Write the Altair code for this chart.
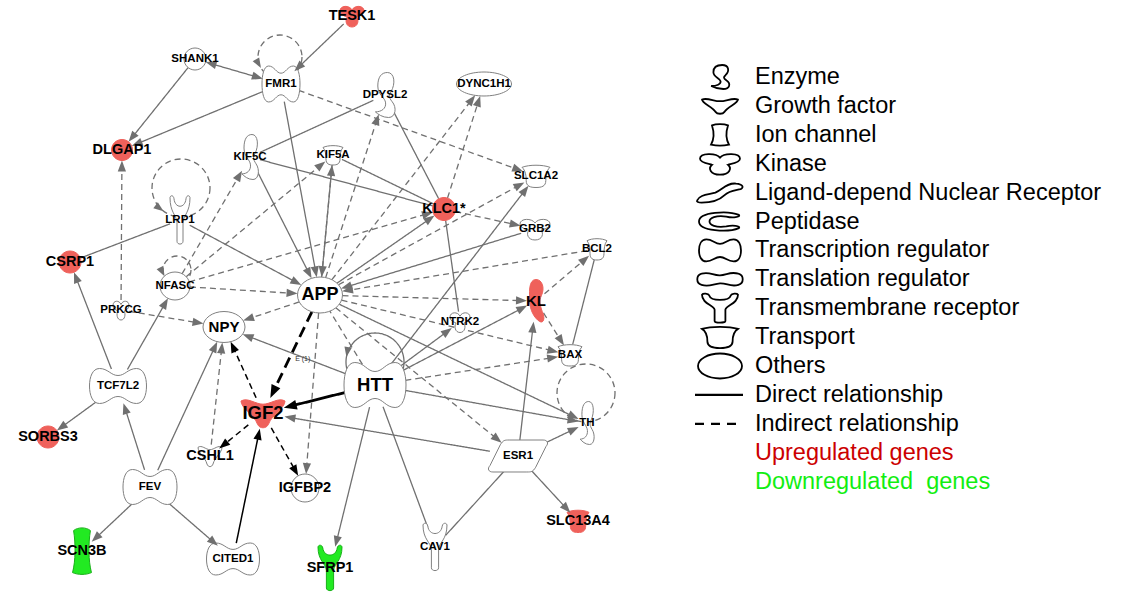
import math
import re
import altair as alt
import pandas as pd

W, H = 1127, 595
FONT = "Liberation Sans"
GRAY = "#707070"
RED = "#ef615b"
GREEN = "#22ea22"

# ---------------- network data ----------------
genes = ["TESK1", "SHANK1", "FMR1", "DPYSL2", "DYNC1H1", "DLGAP1", "KIF5C", "KIF5A",
         "SLC1A2", "KLC1*", "GRB2", "BCL2", "LRP1", "CSRP1", "NFASC", "PRKCG", "APP",
         "NPY", "KL", "NTRK2", "BAX", "HTT", "TCF7L2", "IGF2", "TH", "SORBS3", "CSHL1",
         "ESR1", "FEV", "IGFBP2", "SCN3B", "CITED1", "SFRP1", "CAV1", "SLC13A4"]
gene_x = [352, 195, 281, 385, 484, 122, 250, 333, 536, 444, 535, 597, 180, 70, 175, 121, 320,
          224, 536, 460, 570, 375, 118, 263, 587, 48, 210, 518, 150, 305, 82, 233, 330, 435, 578]
gene_y = [16, 59, 84, 95, 84, 150, 157, 155, 176, 209, 229, 249, 220, 262, 286, 310, 295,
          327, 301, 322, 355, 385, 386, 413, 423, 437, 456, 456, 487, 488, 551, 559, 568, 547, 521]
gene_type = ["kinase", "other", "transcription", "enzyme", "other", "other", "enzyme", "transport",
             "transport", "other", "kinase", "transport", "transmembrane", "other", "other", "kinase",
             "other", "other", "peptidase", "kinase", "transport", "transcription", "transcription",
             "growth", "enzyme", "other", "growth", "ligand", "transcription", "other", "ion",
             "transcription", "transmembrane", "transmembrane", "transport"]
up_genes = ["TESK1", "DLGAP1", "KLC1*", "CSRP1", "KL", "IGF2", "SORBS3", "SLC13A4"]
down_genes = ["SCN3B", "SFRP1"]

edge_from = ["TESK1", "SHANK1", "SHANK1", "FMR1", "FMR1", "FMR1", "DPYSL2", "DPYSL2", "KIF5C",
             "KIF5A", "KIF5C", "KIF5A", "LRP1", "LRP1", "KLC1*", "GRB2", "APP", "APP", "APP",
             "KLC1*", "APP", "NFASC", "NFASC", "NFASC", "NFASC", "PRKCG", "PRKCG", "APP", "CSHL1",
             "APP", "APP", "KLC1*", "BCL2", "APP", "APP", "APP", "HTT", "HTT", "KL", "KL", "BCL2",
             "HTT", "HTT", "HTT", "HTT", "APP", "HTT", "HTT", "HTT", "ESR1", "ESR1", "ESR1", "ESR1",
             "ESR1", "TCF7L2", "TCF7L2", "TCF7L2", "FEV", "FEV", "FEV", "FEV",
             "APP", "HTT", "IGF2", "IGF2", "IGF2", "CITED1"]
edge_to = ["FMR1", "FMR1", "DLGAP1", "DLGAP1", "APP", "SLC1A2", "KIF5C", "KLC1*", "KLC1*",
           "KLC1*", "APP", "APP", "CSRP1", "APP", "NTRK2", "APP", "KLC1*", "DPYSL2", "DYNC1H1",
           "DYNC1H1", "KIF5A", "KIF5C", "KIF5A", "KLC1*", "APP", "DLGAP1", "NPY", "NPY", "NPY",
           "IGFBP2", "SLC1A2", "GRB2", "APP", "KL", "BAX", "ESR1", "APP", "BAX", "BCL2", "BAX", "BAX",
           "SLC1A2", "NTRK2", "KL", "TH", "TH", "NPY", "SFRP1", "CAV1", "CAV1", "SLC13A4", "TH", "KL",
           "IGF2", "CSRP1", "NFASC", "SORBS3", "TCF7L2", "NPY", "SCN3B", "CITED1",
           "IGF2", "IGF2", "NPY", "CSHL1", "IGFBP2", "IGF2"]
edge_rel = ["direct", "direct", "direct", "direct", "direct", "indirect", "direct", "direct", "direct",
            "direct", "direct", "direct", "direct", "direct", "direct", "direct", "direct", "indirect",
            "indirect", "indirect", "indirect", "indirect", "indirect", "indirect", "indirect",
            "indirect", "indirect", "indirect", "indirect", "indirect", "indirect", "indirect",
            "indirect", "indirect", "indirect", "indirect", "indirect", "indirect", "indirect",
            "indirect", "direct", "direct", "direct", "direct", "direct", "direct", "direct", "direct",
            "direct", "direct", "direct", "direct", "direct", "direct", "direct", "direct", "direct",
            "direct", "direct", "direct", "direct",
            "indirect", "direct", "indirect", "indirect", "indirect", "direct"]
edge_head = ["to", "both", "to", "to", "to", "to", "none", "none", "none", "none", "to", "to", "none",
             "to", "none", "to", "to", "to", "to", "to", "to", "to", "to", "to", "to", "to", "to", "to",
             "to", "to", "to", "to", "to", "to", "to", "to", "none", "to", "to", "to", "none", "to",
             "to", "to", "to", "to", "to", "to", "none", "none", "to", "to", "to", "to", "to", "to",
             "to", "to", "to", "to", "to",
             "to", "to", "to", "to", "to", "to"]

loop_gene = ["FMR1", "LRP1", "NFASC", "HTT", "TH"]
loop_rel = ["indirect", "indirect", "indirect", "direct", "indirect"]

legend_labels = ["Enzyme", "Growth factor", "Ion channel", "Kinase", "Ligand-depend Nuclear Receptor",
                 "Peptidase", "Transcription regulator", "Translation regulator",
                 "Transmembrane receptor", "Transport", "Others", "Direct relationship",
                 "Indirect relationship", "Upregulated genes", "Downregulated\u00a0 genes"]
legend_kind = ["enzyme", "growth", "ion", "kinase", "ligand", "peptidase", "transcription",
               "translation", "transmembrane", "transport", "other", "direct", "indirect", "up", "down"]

# ---------------- drawing styles ----------------
node_box = {"TESK1": (24, 22), "SHANK1": (22, 22), "FMR1": (38, 36), "DPYSL2": (24, 45),
            "DYNC1H1": (55, 24), "DLGAP1": (21, 21), "KIF5C": (20, 45), "KIF5A": (20, 20),
            "SLC1A2": (28, 23), "KLC1*": (23, 23), "GRB2": (30, 22), "BCL2": (20, 22),
            "LRP1": (20, 50), "CSRP1": (22, 22), "NFASC": (30, 28), "PRKCG": (16, 20),
            "APP": (45, 36), "NPY": (42, 31), "KL": (18, 43), "NTRK2": (20, 21), "BAX": (24, 22),
            "HTT": (62, 45), "TCF7L2": (57, 35), "IGF2": (44, 32), "TH": (17, 43),
            "SORBS3": (22, 22), "CSHL1": (24, 23), "ESR1": (59, 32), "FEV": (54, 35),
            "IGFBP2": (28, 28), "SCN3B": (21, 48), "CITED1": (53, 32), "SFRP1": (24, 47),
            "CAV1": (24, 49), "SLC13A4": (22, 23)}
label_size = {"APP": 18, "HTT": 18.5, "IGF2": 18.5,
              "TESK1": 14.5, "DLGAP1": 14.5, "KLC1*": 14.5, "CSRP1": 14.5, "NPY": 15, "KL": 15,
              "SORBS3": 14.5, "CSHL1": 14.5, "IGFBP2": 14.5, "SCN3B": 14.5, "SFRP1": 14.5,
              "SLC13A4": 14.5}
SMALL_LABEL = 11.5
# loop centre offset from its gene, radius, angle of the arrow tip on the circle
loop_geom = {"FMR1": (-1, -27, 22, 150), "LRP1": (1, -32, 29, 127), "NFASC": (2, -16, 14, 153),
             "HTT": (0, -23, 29, 190), "TH": (-1, -30, 29, None)}
# edges into / out of IGF2 drawn in black, the two main ones thicker
emphasis = {("APP", "IGF2"): 2.8, ("HTT", "IGF2"): 2.8, ("IGF2", "NPY"): 1.5,
            ("IGF2", "CSHL1"): 1.5, ("IGF2", "IGFBP2"): 1.5, ("CITED1", "IGF2"): 1.5}

PATHS = {
    "other": "M1,0 C1,0.5523 0.5523,1 0,1 C-0.5523,1 -1,0.5523 -1,0 C-1,-0.5523 -0.5523,-1 0,-1 C0.5523,-1 1,-0.5523 1,0 Z",
    "transcription": "M0,-0.6 C-0.25,-0.6 -0.35,-1 -0.65,-1 C-0.9,-1 -1,-0.5 -1,0 C-1,0.5 -0.9,1 -0.65,1 C-0.35,1 -0.25,0.6 0,0.6 C0.25,0.6 0.35,1 0.65,1 C0.9,1 1,0.5 1,0 C1,-0.5 0.9,-1 0.65,-1 C0.35,-1 0.25,-0.6 0,-0.6 Z",
    "enzyme": "M0.2,-1 C0.8,-1 0.9,-0.5 0.5,-0.15 C0.3,0 0.3,0.1 0.6,0.3 C1,0.55 0.9,1 0.3,1 C-0.2,1 -0.6,0.85 -0.8,0.75 C-0.3,0.75 0.1,0.6 0.05,0.35 C0,0.1 -0.6,0 -0.6,-0.4 C-0.6,-0.8 -0.3,-1 0.2,-1 Z",
    "crescent": "M0,-1 C0.7,-1 1,-0.6 0.6,-0.25 C0.3,0 0.5,0.3 0.8,0.6 C1,0.85 0.8,1.05 0.4,0.95 C-0.2,0.8 -0.7,0.4 -0.7,0 C-0.7,-0.3 -0.9,-1 0,-1 Z",
    "transport": "M-1,-0.75 C-0.5,-1 0.5,-1 1,-0.75 C0.75,-0.5 0.7,0 0.7,0.4 C0.7,0.9 0.4,1 0,1 C-0.4,1 -0.7,0.9 -0.7,0.4 C-0.7,0 -0.75,-0.5 -1,-0.75 Z",
    "kinase": "M0,-0.55 C-0.2,-1 -1,-1 -1,-0.45 C-1,-0.1 -0.6,0 -0.4,0.1 C-0.6,0.4 -0.5,1 0,1 C0.5,1 0.6,0.4 0.4,0.1 C0.6,0 1,-0.1 1,-0.45 C1,-1 0.2,-1 0,-0.55 Z",
    "growth": "M-1,-0.75 C-0.7,-1 -0.35,-0.55 0,-0.55 C0.35,-0.55 0.7,-1 1,-0.75 C1,-0.3 0.4,0.1 0.25,0.7 C0.15,1 -0.15,1 -0.25,0.7 C-0.4,0.1 -1,-0.3 -1,-0.75 Z",
    "ion": "M-0.8,-0.85 C-0.4,-1 0.4,-1 0.8,-0.85 C0.6,-0.3 0.6,0.4 0.9,0.9 C0.4,1 -0.4,1 -0.9,0.9 C-0.6,0.4 -0.6,-0.3 -0.8,-0.85 Z",
    "transmembrane": "M-1,-0.9 C-1,-0.3 -0.35,-0.2 -0.3,0.1 L-0.3,0.85 C-0.3,1 0.3,1 0.3,0.85 L0.3,0.1 C0.35,-0.2 1,-0.3 1,-0.9 C0.95,-1 0.65,-1 0.6,-0.85 C0.5,-0.45 -0.5,-0.45 -0.6,-0.85 C-0.65,-1 -0.95,-1 -1,-0.9 Z",
    "ligand": "M-1,0.8 C-0.9,0.2 -0.5,0.2 -0.2,0 C0.1,-0.3 0.3,-1 0.7,-0.9 C1,-0.85 1.05,-0.5 0.9,-0.35 C0.6,-0.2 0.4,-0.2 0.2,0.25 C0,0.7 -0.4,1 -0.8,1 C-0.95,1 -1.02,0.9 -1,0.8 Z",
    "ligand_node": "M-0.3,-1 L0.85,-1 C1,-1 1.05,-0.8 0.95,-0.6 L0.6,0.7 C0.5,1 0.45,1 0.3,1 L-0.85,1 C-1,1 -1.05,0.8 -0.95,0.6 L-0.6,-0.7 C-0.5,-1 -0.45,-1 -0.3,-1 Z",
    "peptidase": "M0.9,-0.6 C0.4,-1 -1,-0.9 -1,0 C-1,0.9 0.4,1 0.9,0.6 C1,0.4 0.6,0.3 0.3,0.45 C-0.2,0.6 -0.5,0.3 -0.5,0 C-0.5,-0.3 -0.2,-0.6 0.3,-0.45 C0.6,-0.3 1,-0.4 0.9,-0.6 Z",
    "translation": "M-0.8,-0.7 C-0.45,-1 -0.3,-0.45 0,-0.5 C0.3,-0.55 0.45,-1 0.8,-0.7 C1.05,-0.5 1.05,0.5 0.8,0.7 C0.45,1 0.3,0.45 0,0.5 C-0.3,0.55 -0.45,1 -0.8,0.7 C-1.05,0.5 -1.05,-0.5 -0.8,-0.7 Z",
}
NODE_PATH = {"ligand": "ligand_node", "peptidase": "crescent"}
ARROW = "M0,-1 L0.75,1 L-0.75,1 Z"

legend_box = {"enzyme": (22, 24), "growth": (36, 17), "ion": (20, 22), "kinase": (40, 22),
              "ligand": (46, 20), "peptidase": (42, 22), "transcription": (42, 22),
              "translation": (46, 16), "transmembrane": (36, 30), "transport": (36, 22),
              "other": (44, 25)}


def fitted(path, w, h):
    """Scale a path drawn in the [-1, 1] box to a w x h symbol; returns (path, size)."""
    s = max(w, h)
    sx, sy = w / s, h / s
    out, k = [], 0
    for tok in re.findall(r"[A-Za-z]|-?\d*\.?\d+", path):
        if tok.isalpha():
            out.append(tok)
        else:
            v = float(tok) * (sx if k % 2 == 0 else sy)
            k += 1
            out.append(f"{v:.3f}")
    return " ".join(out), s * s


pos = dict(zip(genes, zip(gene_x, gene_y)))


def reach(g, ux, uy):
    w, h = node_box[g]
    a, b = w / 2, h / 2
    return a * b / math.sqrt((b * ux) ** 2 + (a * uy) ** 2)


def heading(dx, dy):
    return (math.degrees(math.atan2(dx, -dy)) + 360) % 360


# ---------------- tables ----------------
node_rows = []
for g, gx, gy, t in zip(genes, gene_x, gene_y, gene_type):
    w, h = node_box[g]
    p, sz = fitted(PATHS[NODE_PATH.get(t, t)], w, h)
    if g in up_genes:
        fill, stroke = RED, RED
    elif g in down_genes:
        fill, stroke = GREEN, "#18b018"
    else:
        fill, stroke = "white", "#808080"
    node_rows.append(dict(x=gx, y=gy, path=p, sz=sz, fill=fill, stroke=stroke,
                          label=g, fs=label_size.get(g, SMALL_LABEL)))
nodes = pd.DataFrame(node_rows)

edge_rows, head_rows = [], []
for s, t, rel, hd in zip(edge_from, edge_to, edge_rel, edge_head):
    (sx, sy), (tx, ty) = pos[s], pos[t]
    L = math.hypot(tx - sx, ty - sy)
    ux, uy = (tx - sx) / L, (ty - sy) / L
    x0, y0 = sx + ux * reach(s, ux, uy), sy + uy * reach(s, ux, uy)
    x1, y1 = tx - ux * reach(t, ux, uy), ty - uy * reach(t, ux, uy)
    sw = emphasis.get((s, t), 1.3)
    col = "black" if (s, t) in emphasis else GRAY
    al = 13 if sw > 2 else 11
    if hd in ("to", "both"):
        head_rows.append(dict(x=x1 - ux * al / 2, y=y1 - uy * al / 2, ang=heading(ux, uy),
                              sz=al * al, col=col))
        x1e, y1e = x1 - ux * al * 0.7, y1 - uy * al * 0.7
    else:
        x1e, y1e = x1, y1
    if hd == "both":
        head_rows.append(dict(x=x0 + ux * al / 2, y=y0 + uy * al / 2, ang=heading(-ux, -uy),
                              sz=al * al, col=col))
        x0, y0 = x0 + ux * al * 0.7, y0 + uy * al * 0.7
    style = rel + ("_bold" if sw > 2 else "")
    edge_rows.append(dict(x=x0, y=y0, x2=x1e, y2=y1e, rel=style, sw=sw, col=col,
                          key=f"{s}>{t}"))
edges = pd.DataFrame(edge_rows)

loop_rows = []
for g, rel in zip(loop_gene, loop_rel):
    dx, dy, r, tip = loop_geom[g]
    cx, cy = pos[g][0] + dx, pos[g][1] + dy
    p, sz = fitted(PATHS["other"], 2 * r, 2 * r)
    loop_rows.append(dict(x=cx, y=cy, path=p, sz=sz, rel=rel))
    if tip is not None:
        phi = math.radians(tip)
        px, py = cx + r * math.cos(phi), cy + r * math.sin(phi)
        vx, vy = math.sin(phi), -math.cos(phi)
        head_rows.append(dict(x=px - vx * 5, y=py - vy * 5, ang=heading(vx, vy), sz=100, col=GRAY))
loops = pd.DataFrame(loop_rows)
heads = pd.DataFrame(head_rows)

# small evidence tag on the HTT -> NPY edge
mid = edges[edges.key == "HTT>NPY"].iloc[0]
tag = pd.DataFrame([dict(x=(mid.x + mid.x2) / 2 + 4, y=(mid.y + mid.y2) / 2 + 3, t="E (1)")])

# legend
LX_ICON, LX_TEXT, LY0, LSTEP = 721, 755, 77, 28.9
leg_rows, icon_rows, key_rows = [], [], []
for i, (lab, kind) in enumerate(zip(legend_labels, legend_kind)):
    y = LY0 + i * LSTEP
    color = {"up": "#cc0000", "down": "#11ee11"}.get(kind, "black")
    leg_rows.append(dict(x=LX_TEXT, y=y, t=lab, col=color))
    if kind in legend_box:
        p, sz = fitted(PATHS[kind], *legend_box[kind])
        icon_rows.append(dict(x=LX_ICON - 1, y=y, path=p, sz=sz))
    elif kind in ("direct", "indirect"):
        key_rows.append(dict(x=LX_ICON - 26, x2=LX_ICON + 22, y=y, rel=kind))
legend_text = pd.DataFrame(leg_rows)
legend_icons = pd.DataFrame(icon_rows)
legend_keys = pd.DataFrame(key_rows)

# ---------------- chart ----------------
xs = alt.Scale(domain=[0, W], nice=False, zero=False)
ys = alt.Scale(domain=[0, H], nice=False, zero=False, reverse=True)
X = lambda f="x": alt.X(f"{f}:Q", scale=xs, axis=None)
Y = lambda f="y": alt.Y(f"{f}:Q", scale=ys, axis=None)


def edge_layer(rel, dash):
    return alt.Chart(edges[edges.rel == rel]).mark_rule(strokeDash=dash, strokeCap="butt").encode(
        x=X(), y=Y(), x2="x2:Q", y2="y2:Q",
        color=alt.Color("col:N", scale=None),
        strokeWidth=alt.StrokeWidth("sw:Q", scale=None))


def loop_layer(rel, dash):
    return alt.Chart(loops[loops.rel == rel]).mark_point(
        filled=False, opacity=1, strokeWidth=1.3, strokeDash=dash, color=GRAY).encode(
        x=X(), y=Y(), shape=alt.Shape("path:N", scale=None), size=alt.Size("sz:Q", scale=None))


node_layer = alt.Chart(nodes).mark_point(filled=True, opacity=1, strokeWidth=1).encode(
    x=X(), y=Y(), shape=alt.Shape("path:N", scale=None), size=alt.Size("sz:Q", scale=None),
    fill=alt.Fill("fill:N", scale=None), stroke=alt.Stroke("stroke:N", scale=None))

head_layer = alt.Chart(heads).mark_point(filled=True, opacity=1, strokeWidth=0).encode(
    x=X(), y=Y(), shape=alt.value(ARROW), size=alt.Size("sz:Q", scale=None),
    angle=alt.Angle("ang:Q", scale=None), fill=alt.Fill("col:N", scale=None))

label_layer = alt.Chart(nodes).mark_text(font=FONT, fontWeight="bold", color="black",
                                         baseline="middle", align="center").encode(
    x=X(), y=Y(), text="label:N", size=alt.Size("fs:Q", scale=None))

tag_layer = alt.Chart(tag).mark_text(font=FONT, fontSize=7, color="#333333").encode(
    x=X(), y=Y(), text="t:N")

icon_layer = alt.Chart(legend_icons).mark_point(filled=True, opacity=1, strokeWidth=1.8,
                                                fill="white", stroke="black").encode(
    x=X(), y=Y(), shape=alt.Shape("path:N", scale=None), size=alt.Size("sz:Q", scale=None))

key_solid = alt.Chart(legend_keys[legend_keys.rel == "direct"]).mark_rule(
    color="black", strokeWidth=2.2).encode(x=X(), x2="x2:Q", y=Y())
key_dash = alt.Chart(legend_keys[legend_keys.rel == "indirect"]).mark_rule(
    color="black", strokeWidth=2.2, strokeDash=[9, 7]).encode(x=X(), x2="x2:Q", y=Y())

legend_layer = alt.Chart(legend_text).mark_text(font=FONT, fontSize=23.5, align="left",
                                                baseline="middle").encode(
    x=X(), y=Y(), text="t:N", color=alt.Color("col:N", scale=None))

chart = alt.layer(
    edge_layer("direct", [1, 0]), edge_layer("direct_bold", [1, 0]),
    edge_layer("indirect", [6, 4]), edge_layer("indirect_bold", [11, 6]),
    loop_layer("indirect", [6, 4]), loop_layer("direct", [1, 0]),
    node_layer, head_layer, label_layer, tag_layer,
    icon_layer, key_solid, key_dash, legend_layer,
).properties(
    width=W, height=H, padding=0, autosize=alt.AutoSizeParams(type="none"), background="white"
).configure_view(stroke=None)

chart.save("out.html", embed_options={"renderer": "svg", "actions": False})
